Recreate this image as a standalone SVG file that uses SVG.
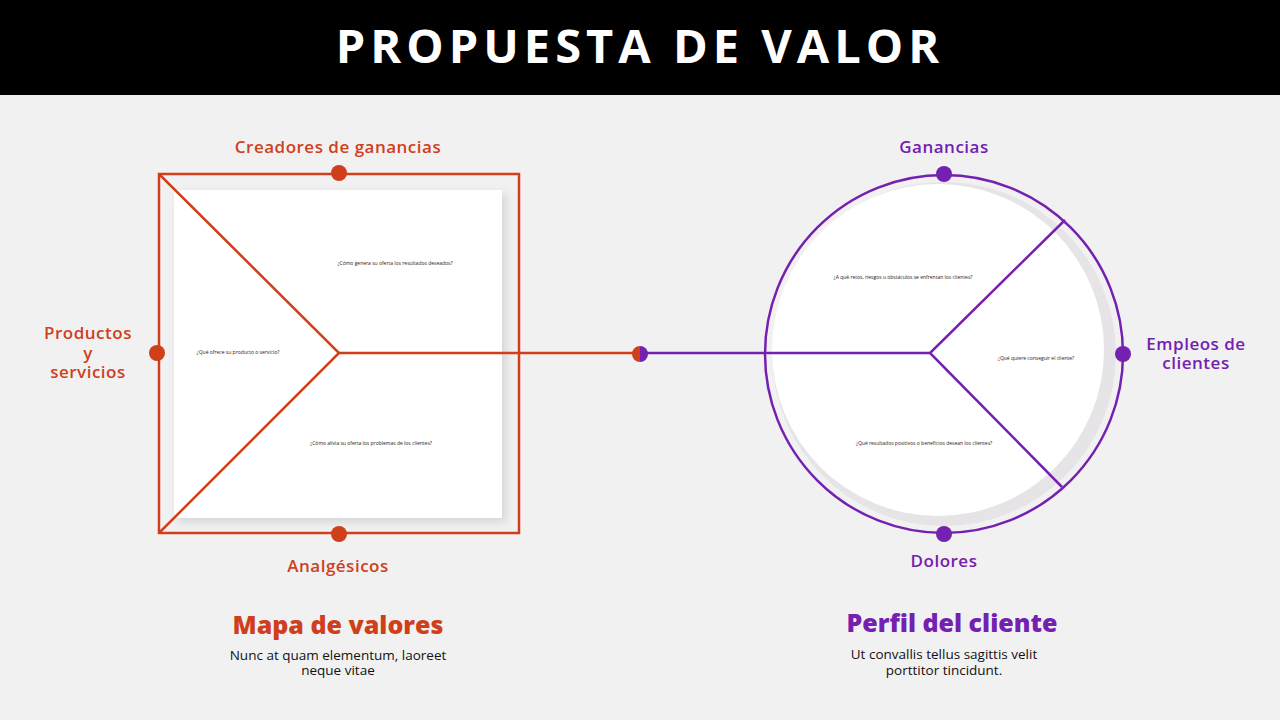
<svg xmlns="http://www.w3.org/2000/svg" width="1280" height="720" viewBox="0 0 1280 720">
<style>
.o{fill:none;stroke:#cf3f1c;stroke-width:2.5}
.p{fill:none;stroke:#7420b0;stroke-width:2.5}
.lo{font-family:"Open Sans",sans-serif;font-weight:600;fill:#cf3f1c;font-size:17px;text-anchor:middle;letter-spacing:0.5px}
.lp{font-family:"Open Sans",sans-serif;font-weight:600;fill:#7420b0;font-size:17px;text-anchor:middle;letter-spacing:0.5px}
.s{font-family:"Open Sans",sans-serif;fill:#222;font-size:5px;text-anchor:middle}
.d{font-family:"Open Sans",sans-serif;fill:#111;font-size:13.5px;text-anchor:middle}
</style>
<defs>
<filter id="sh" x="-10%" y="-10%" width="125%" height="125%"><feDropShadow dx="4" dy="4" stdDeviation="5" flood-color="#000" flood-opacity="0.12"/></filter>
</defs>
<rect width="1280" height="720" fill="#f2f1f2"/>
<rect width="1280" height="95" fill="#000"/>
<text x="640" y="63" font-family="Open Sans,sans-serif" font-weight="700" font-size="47" letter-spacing="5" fill="#fff" text-anchor="middle">PROPUESTA DE VALOR</text>
<g id="mapa">
<rect x="174" y="190" width="328" height="328" fill="#fff" filter="url(#sh)"/>
<rect x="159" y="174" width="360" height="359" class="o"/>
<polyline points="159,174 339,353 159,533" class="o"/>
<text x="395" y="265" class="s">¿Cómo genera su oferta los resultados deseados?</text>
<text x="238" y="354" class="s" font-size="6">¿Qué ofrece su producto o servicio?</text>
<text x="371" y="445" class="s" font-size="4.5">¿Cómo alivia su oferta los problemas de los clientes?</text>
</g>
<g id="perfil">
<circle cx="944" cy="354" r="172" fill="#e6e4e6"/>
<circle cx="938" cy="350" r="166" fill="#fff"/>
<circle cx="944" cy="354" r="179" class="p"/>
<polyline points="1065,220 930,353 1062,487" class="p"/>
<text x="903" y="279" class="s" font-size="4.5">¿A qué retos, riesgos u obstáculos se enfrentan los clientes?</text>
<text x="1036" y="360" class="s" font-size="7">¿Qué quiere conseguir el cliente?</text>
<text x="924" y="445" class="s" font-size="5.5">¿Qué resultados positivos o beneficios desean los clientes?</text>
</g>
<g id="connectors">
<line x1="339" y1="353" x2="640" y2="353" class="o"/>
<line x1="640" y1="353" x2="930" y2="353" class="p"/>
</g>
<g id="dots">
<circle cx="339" cy="173" r="8" fill="#cf3f1c"/>
<circle cx="157" cy="353" r="8" fill="#cf3f1c"/>
<circle cx="339" cy="534" r="8" fill="#cf3f1c"/>
<path d="M640,346 a8,8 0 0 0 0,16z" fill="#cf3f1c"/>
<path d="M640,346 a8,8 0 0 1 0,16z" fill="#7420b0"/>
<circle cx="944" cy="174" r="8" fill="#7420b0"/>
<circle cx="1123" cy="354" r="8" fill="#7420b0"/>
<circle cx="944" cy="534" r="8" fill="#7420b0"/>
</g>
<g id="labels">
<text x="338" y="153" class="lo">Creadores de ganancias</text>
<text x="88" y="339" class="lo">Productos</text>
<text x="88" y="359" class="lo">y</text>
<text x="88" y="378" class="lo">servicios</text>
<text x="338" y="572" class="lo">Analgésicos</text>
<text x="944" y="153" class="lp">Ganancias</text>
<text x="1196" y="350" class="lp">Empleos de</text>
<text x="1196" y="369" class="lp">clientes</text>
<text x="944" y="567" class="lp">Dolores</text>
<text x="338" y="634" font-family="Open Sans,sans-serif" font-weight="800" font-size="25" fill="#cf3f1c" text-anchor="middle">Mapa de valores</text>
<text x="338" y="660" class="d">Nunc at quam elementum, laoreet</text>
<text x="338" y="675" class="d">neque vitae</text>
<text x="952" y="632" font-family="Open Sans,sans-serif" font-weight="800" font-size="25" fill="#7420b0" text-anchor="middle">Perfil del cliente</text>
<text x="944" y="659" class="d">Ut convallis tellus sagittis velit</text>
<text x="944" y="675" class="d">porttitor tincidunt.</text>
</g>
</svg>
